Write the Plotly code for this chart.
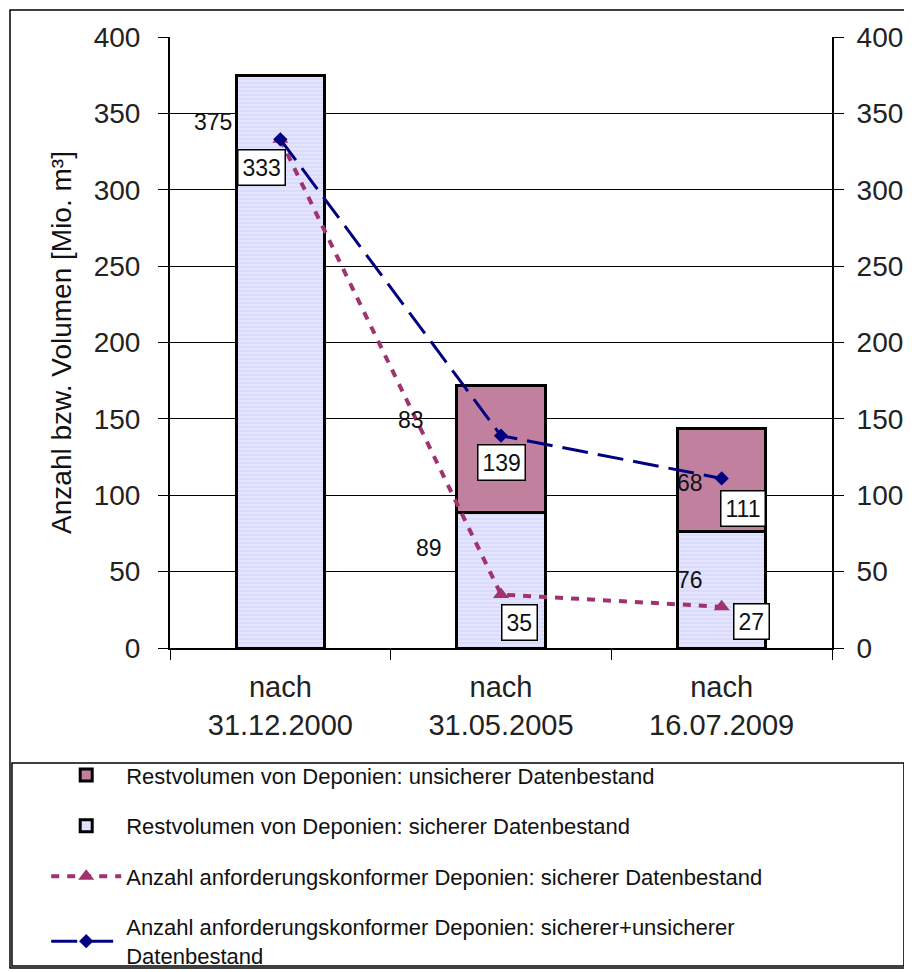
import plotly.graph_objects as go

kategorien = ["nach<br>31.12.2000", "nach<br>31.05.2005", "nach<br>16.07.2009"]
vol_sicher = [375, 89, 76]
vol_unsicher = [0, 83, 68]
anzahl_sicher = [333, 35, 27]
anzahl_gesamt = [333, 139, 111]

ROSA = "#C0809E"
LILA_LINIE = "#A0336B"
BLAU = "#000080"
SCHRIFT = "Liberation Sans, Arial"

fig = go.Figure()

fig.add_trace(go.Bar(
    x=kategorien, y=vol_sicher, name="Restvolumen von Deponien: sicherer Datenbestand",
    marker=dict(color="#E4E4FF", line=dict(color="black", width=3),
                pattern=dict(shape="-", fgcolor="#C4C4F4", size=4, solidity=0.3)),
    width=0.4, legendrank=2, legendgroup="b",
))
fig.add_trace(go.Bar(
    x=kategorien, y=vol_unsicher, name="Restvolumen von Deponien: unsicherer Datenbestand",
    marker=dict(color=ROSA, line=dict(color="black", width=3)),
    width=0.4, legendrank=1, legendgroup="a",
))
fig.add_trace(go.Scatter(
    x=kategorien, y=anzahl_sicher, mode="lines+markers",
    name="Anzahl anforderungskonformer Deponien: sicherer Datenbestand",
    line=dict(color=LILA_LINIE, width=4, dash="8px,8px"),
    marker=dict(symbol="triangle-up", size=14, color=LILA_LINIE),
    legendrank=3, legendgroup="c",
))
fig.add_trace(go.Scatter(
    x=kategorien, y=anzahl_gesamt, mode="lines+markers",
    name="Anzahl anforderungskonformer Deponien: sicherer+unsicherer<br>Datenbestand",
    line=dict(color=BLAU, width=3, dash="26px,10px"),
    marker=dict(symbol="diamond", size=11, color=BLAU),
    legendrank=4, legendgroup="d",
))
# unsichtbare Spur für die rechte Achse
fig.add_trace(go.Scatter(x=kategorien, y=anzahl_gesamt, yaxis="y2", mode="lines",
                         line=dict(width=0), showlegend=False, hoverinfo="skip"))

ann = []
# Balkenbeschriftungen (ohne Rahmen)
balken_lab = [
    (0, 375, str(vol_sicher[0]), -67, -47),
    (1, vol_sicher[1] + vol_unsicher[1] / 2, str(vol_unsicher[1]), -90, 29),
    (1, vol_sicher[1] / 2, str(vol_sicher[1]), -72, 32),
    (2, vol_sicher[2] + vol_unsicher[2] / 2, str(vol_unsicher[2]), -32, -3),
    (2, vol_sicher[2] / 2, str(vol_sicher[2]), -32, 10),
]
for i, y, t, dx, dy in balken_lab:
    ann.append(dict(x=kategorien[i], y=y, text=t, showarrow=False, xshift=dx, yshift=dy,
                    font=dict(size=23, color="#111")))
# Linienbeschriftungen (mit Rahmen)
linien_lab = [
    (0, anzahl_gesamt[0], -19, -28),
    (1, anzahl_gesamt[1], 0, -27),
    (1, anzahl_sicher[1], 18, -28),
    (2, anzahl_gesamt[2], 21, -30),
    (2, anzahl_sicher[2], 30, -15),
]
for i, y, dx, dy in linien_lab:
    ann.append(dict(x=kategorien[i], y=y, text=str(y), showarrow=False, xshift=dx, yshift=dy,
                    font=dict(size=23, color="#111"), bgcolor="white",
                    bordercolor="black", borderwidth=1.5, borderpad=4))

shapes = [
    # äußerer Rahmen
    dict(type="rect", xref="paper", yref="paper", x0=-0.2417, x1=1.1148, y0=-0.5237, y1=1.0442,
         line=dict(color="black", width=1.5)),
    # Legendenrahmen
    dict(type="rect", xref="paper", yref="paper", x0=-0.2387, x1=1.1087, y0=-0.5205, y1=-0.1882,
         line=dict(color="black", width=1.5)),
]

achse = dict(range=[0, 400], dtick=50, ticks="outside", ticklen=10, tickcolor="black",
             showline=True, linecolor="black", linewidth=2,
             tickfont=dict(size=28, color="#222", family=SCHRIFT))

fig.update_layout(
    width=904, height=964,
    margin=dict(l=162, r=80, t=29, b=324, autoexpand=False),
    paper_bgcolor="white", plot_bgcolor="white",
    barmode="stack", bargap=0.6,
    font=dict(family=SCHRIFT, color="#111"),
    xaxis=dict(type="category", ticks="outside", tickson="boundaries", ticklen=10,
               tickcolor="black", showline=True, linecolor="black", linewidth=2,
               ticklabelstandoff=12, tickfont=dict(size=29, color="#222")),
    yaxis=dict(**achse, showgrid=True, gridcolor="black", gridwidth=1, ticklabelstandoff=12,
               title=dict(text="Anzahl bzw. Volumen [Mio. m³]", font=dict(size=28, color="#111"),
                          standoff=14)),
    yaxis2=dict(**achse, overlaying="y", side="right", showgrid=False, ticklabelstandoff=7),
    legend=dict(x=-0.187, y=-0.174, xanchor="left", yanchor="top", traceorder="grouped",
                font=dict(size=22, color="#111"), bgcolor="rgba(0,0,0,0)",
                tracegroupgap=19, itemwidth=70),
    annotations=ann, shapes=shapes,
)

fig.write_html("out.html")
